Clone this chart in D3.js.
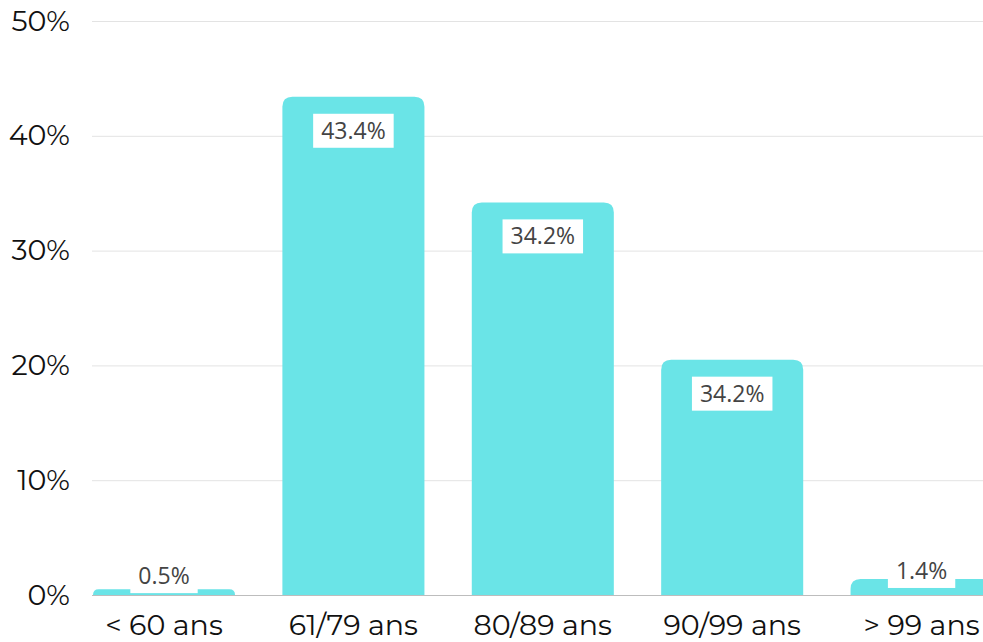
<!DOCTYPE html>
<html>
<head>
<meta charset="utf-8">
<script src="https://cdn.jsdelivr.net/npm/d3@7/dist/d3.min.js"></script>
<style>
  html, body { margin: 0; padding: 0; background: #fff; }
  svg { display: block; }
</style>
</head>
<body>
<svg id="chart" width="983" height="642"></svg>
<script>
// Age groups and their share of the total (percent)
const categories = ["< 60 ans", "61/79 ans", "80/89 ans", "90/99 ans", "> 99 ans"];
const values = [0.5, 43.4, 34.2, 20.5, 1.4];
// Text printed on each bar's label
const valueLabels = ["0.5%", "43.4%", "34.2%", "34.2%", "1.4%"];
const yTicks = [0, 10, 20, 30, 40, 50];

const svg = d3.select("#chart");
const W = 983, H = 642;
const plotLeft = 93, plotTop = 21, plotBottom = 595;

const x = d3.scaleBand()
  .domain(categories)
  .range([plotLeft, plotLeft + 899.6])
  .paddingInner(0.25)
  .paddingOuter(0);

const y = d3.scaleLinear().domain([0, 50]).range([plotBottom, plotTop]);

const axisFont = "Montserrat, 'Noto Sans', sans-serif";
const labelFont = "'Open Sans', 'Noto Sans', sans-serif";

// Horizontal gridlines
const yAxis = d3.axisLeft(y)
  .tickValues(yTicks)
  .tickSize(-(W - plotLeft + 1))
  .tickPadding(22)
  .tickFormat(d => d + "%");

const gy = svg.append("g")
  .attr("transform", `translate(${plotLeft - 1},0)`)
  .call(yAxis);
gy.select(".domain").remove();
gy.selectAll(".tick line")
  .attr("stroke", d => d === 0 ? "#bdbdbd" : "#e3e3e3")
  .attr("stroke-width", 1);
gy.selectAll(".tick text")
  .attr("fill", "#111")
  .style("font-family", axisFont)
  .style("font-size", "28.5px");

// Rounded-top bar path
const r = 10;
function barPath(x0, w, yTop, yBase) {
  const h = yBase - yTop;
  const rr = Math.min(r, h, w / 2);
  return `M${x0},${yBase}` +
    `V${yTop + rr}` +
    `Q${x0},${yTop} ${x0 + rr},${yTop}` +
    `H${x0 + w - rr}` +
    `Q${x0 + w},${yTop} ${x0 + w},${yTop + rr}` +
    `V${yBase}Z`;
}

const data = categories.map((c, i) => ({ cat: c, value: values[i], label: valueLabels[i] }));

svg.append("g")
  .selectAll("path")
  .data(data)
  .join("path")
  .attr("d", d => barPath(x(d.cat), x.bandwidth(), y(d.value), y(0)))
  .attr("fill", "#6ae4e7");

// Value labels on white boxes
const boxH = 34;
const lg = svg.append("g")
  .selectAll("g")
  .data(data)
  .join("g")
  .attr("transform", d => {
    const cx = x(d.cat) + x.bandwidth() / 2;
    const barH = y(0) - y(d.value);
    const cy = barH > boxH + 20 ? y(d.value) + 34 : (y(0) + y(d.value)) / 2 - 16;
    return `translate(${cx},${cy})`;
  });

lg.append("text")
  .attr("text-anchor", "middle")
  .attr("dy", "0.35em")
  .attr("fill", "#444")
  .style("font-family", labelFont)
  .style("font-size", "23px")
  .style("font-weight", 400)
  .text(d => d.label);

lg.each(function () {
  const g = d3.select(this);
  const bb = g.select("text").node().getBBox();
  g.insert("rect", "text")
    .attr("x", bb.x - 8)
    .attr("y", -boxH / 2)
    .attr("width", bb.width + 16)
    .attr("height", boxH)
    .attr("fill", "#fff");
});

// Category axis labels
const xAxis = d3.axisBottom(x).tickSize(0).tickPadding(20);
const gx = svg.append("g")
  .attr("transform", `translate(0,${plotBottom})`)
  .call(xAxis);
gx.select(".domain").remove();
gx.selectAll(".tick text")
  .attr("fill", "#111")
  .style("font-family", axisFont)
  .style("font-size", "28.5px");
</script>
</body>
</html>
